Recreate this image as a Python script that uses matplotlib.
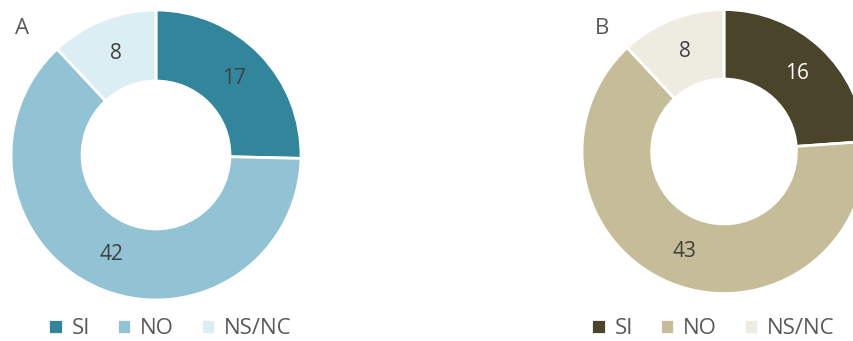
import matplotlib.pyplot as plt

plt.rcParams['font.family'] = ['Open Sans', 'DejaVu Sans']

categories = ['SI', 'NO', 'NS/NC']
values_a = [17, 42, 8]
values_b = [16, 43, 8]
colors_a = ['#31869b', '#92c3d4', '#dbeef4']
colors_b = ['#4a452a', '#c4bd97', '#eeece1']

fig = plt.figure(figsize=(8.54, 3.41), dpi=100)
ax = fig.add_axes([0, 0, 1, 1])
ax.set_xlim(0, 854)
ax.set_ylim(0, 341)
ax.set_aspect('equal')
ax.axis('off')


def donut(values, colors, center, radius, label_colors):
    wedges, texts, autotexts = ax.pie(
        values, colors=colors, center=center, radius=radius,
        startangle=90, counterclock=False,
        wedgeprops=dict(width=radius * 0.49, edgecolor='white', linewidth=2),
        autopct=lambda p: '{:.0f}'.format(p * sum(values) / 100),
        pctdistance=0.755, textprops=dict(fontsize=15))
    for t, c in zip(autotexts, label_colors):
        t.set_color(c)
    return wedges


wa = donut(values_a, colors_a, (156, 186), 145, ['#404040', '#404040', '#404040'])
wb = donut(values_b, colors_b, (724, 189.5), 142, ['white', '#404040', '#404040'])
ax.set_xlim(0, 854)
ax.set_ylim(0, 341)

ax.text(15, 312, 'A', fontsize=16, color='#595959', va='center')
ax.text(595, 313, 'B', fontsize=16, color='#595959', va='center')

leg_kw = dict(ncol=3, frameon=False, loc='center', fontsize=16,
              handlelength=0.65, handleheight=0.65, handletextpad=0.4,
              columnspacing=1.2, labelcolor='#595959',
              bbox_transform=ax.transData)
leg1 = ax.legend(wa, categories, bbox_to_anchor=(170, 12), **leg_kw)
ax.add_artist(leg1)
ax.legend(wb, categories, bbox_to_anchor=(713, 12), **leg_kw)

fig.savefig('out.png', dpi=100)
